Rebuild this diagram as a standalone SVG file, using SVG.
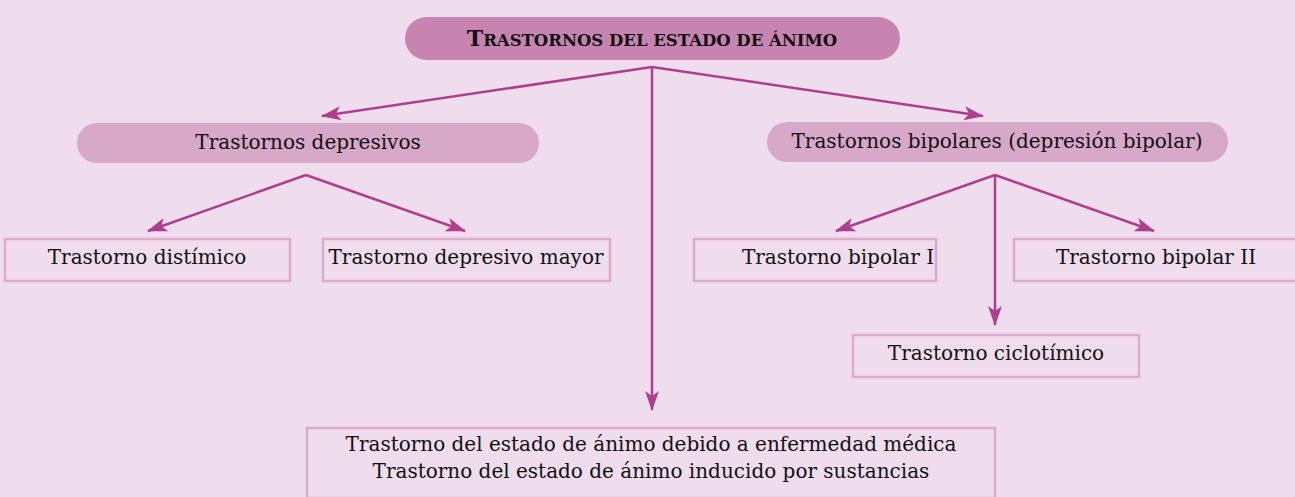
<svg xmlns="http://www.w3.org/2000/svg" width="1295" height="497" viewBox="0 0 1295 497">
<defs>
<style>
.pill1{fill:#c784b1}
.pill2{fill:#d7a8c8}
.box{fill:none;stroke:#dcaacc;stroke-width:2.5}
.t{font-family:"DejaVu Serif","Liberation Serif",serif;font-size:20px;fill:#111;text-anchor:middle}
.c{stroke:#ae3f8c;stroke-width:2.5;fill:none}
</style>
<marker id="ah" viewBox="0 0 20 14" refX="19" refY="7" markerWidth="20" markerHeight="14" markerUnits="userSpaceOnUse" orient="auto">
<path d="M0,0 L20,7 L0,14 L5,7 Z" fill="#ae3f8c"/>
</marker>
</defs>
<rect width="1295" height="497" fill="#efdded"/>
<g id="connectors">
<path class="c" d="M652,67 L322,116" marker-end="url(#ah)"/>
<path class="c" d="M652,67 L983,116" marker-end="url(#ah)"/>
<path class="c" d="M652,67 L652,410" marker-end="url(#ah)"/>
<path class="c" d="M306,175 L148,231" marker-end="url(#ah)"/>
<path class="c" d="M306,175 L465,231" marker-end="url(#ah)"/>
<path class="c" d="M995,175 L836,231" marker-end="url(#ah)"/>
<path class="c" d="M995,175 L1154,231" marker-end="url(#ah)"/>
<path class="c" d="M995,175 L995,325" marker-end="url(#ah)"/>
</g>
<g id="n-root">
<rect class="pill1" x="405" y="17" width="495" height="43" rx="21.5"/>
<text class="t" x="652" y="46" font-weight="bold"><tspan font-size="22">T</tspan><tspan font-size="16.5">RASTORNOS DEL ESTADO DE ÁNIMO</tspan></text>
</g>
<g id="n-depresivos">
<rect class="pill2" x="77" y="123" width="462" height="40" rx="20"/>
<text class="t" x="308" y="149">Trastornos depresivos</text>
</g>
<g id="n-bipolares">
<rect class="pill2" x="767" y="122" width="461" height="40" rx="20"/>
<text class="t" x="997" y="148">Trastornos bipolares (depresión bipolar)</text>
</g>
<g id="n-distimico">
<rect class="box" x="5" y="239" width="285" height="42"/>
<text class="t" x="147" y="264">Trastorno distímico</text>
</g>
<g id="n-mayor">
<rect class="box" x="323" y="239" width="287" height="42"/>
<text class="t" x="466" y="264">Trastorno depresivo mayor</text>
</g>
<g id="n-bipolar1">
<rect class="box" x="694" y="239" width="242" height="42"/>
<text class="t" x="838" y="264">Trastorno bipolar I</text>
</g>
<g id="n-bipolar2">
<rect class="box" x="1014" y="239" width="283" height="42"/>
<text class="t" x="1156" y="264">Trastorno bipolar II</text>
</g>
<g id="n-ciclotimico">
<rect class="box" x="853" y="335" width="286" height="42"/>
<text class="t" x="996" y="360">Trastorno ciclotímico</text>
</g>
<g id="n-otros">
<rect class="box" x="307" y="428" width="688" height="70"/>
<text class="t" x="651" y="451">Trastorno del estado de ánimo debido a enfermedad médica</text>
<text class="t" x="651" y="478">Trastorno del estado de ánimo inducido por sustancias</text>
</g>
</svg>
